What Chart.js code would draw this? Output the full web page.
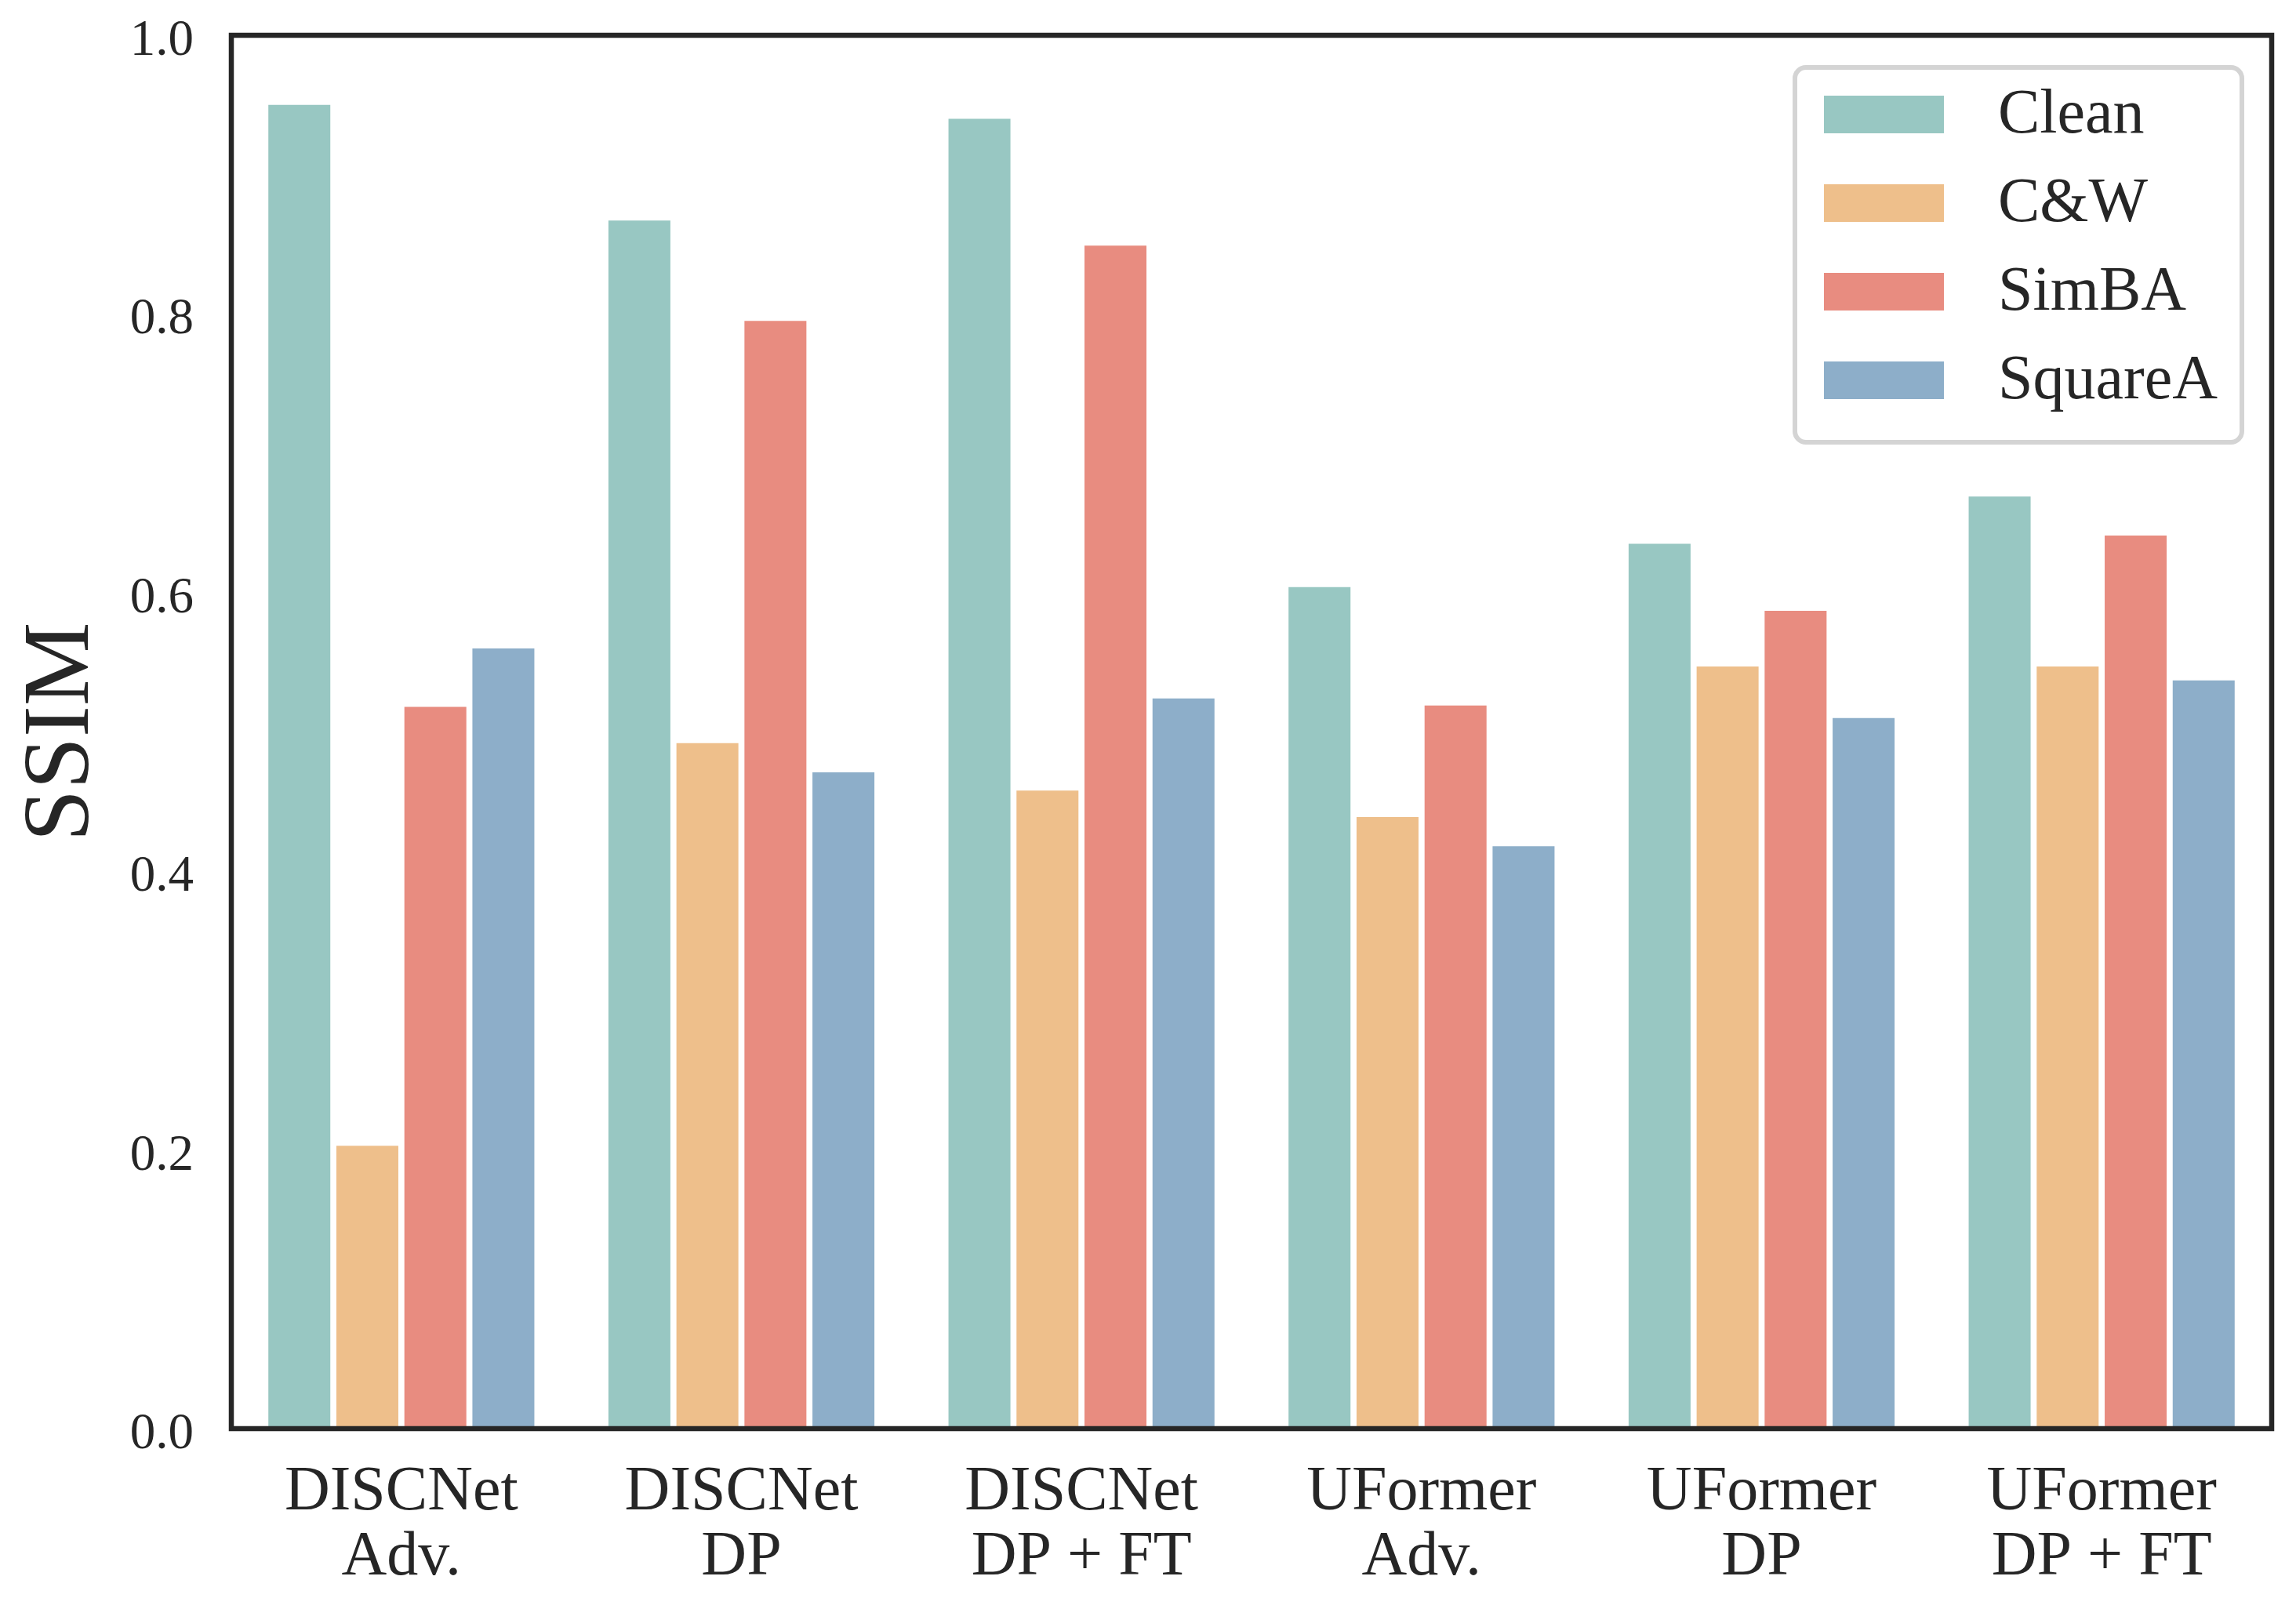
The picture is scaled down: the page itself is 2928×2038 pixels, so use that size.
<!DOCTYPE html>
<html lang="en">
<head>
    <meta charset="UTF-8">
    <title>SSIM per model and attack</title>
    <script src="https://cdn.jsdelivr.net/npm/chart.js"></script>
    <style>
        html, body {
            margin: 0;
            padding: 0;
            background: #ffffff;
        }

        #wrap {
            width: 2928px;
            height: 2038px;
        }
    </style>
</head>
<body>

    <div id="wrap">
        <canvas id="myChart"></canvas>
    </div>

    <script>
        const categories = [
            ['DISCNet', 'Adv.'],
            ['DISCNet', 'DP'],
            ['DISCNet', 'DP + FT'],
            ['UFormer', 'Adv.'],
            ['UFormer', 'DP'],
            ['UFormer', 'DP + FT']
        ];

        const seriesNames = ['Clean', 'C&W', 'SimBA', 'SquareA'];
        const clean   = [0.950, 0.867, 0.940, 0.604, 0.635, 0.669];
        const cw      = [0.203, 0.492, 0.458, 0.439, 0.547, 0.547];
        const simba   = [0.518, 0.795, 0.849, 0.519, 0.587, 0.641];
        const squareA = [0.560, 0.471, 0.524, 0.418, 0.510, 0.537];

        const yTicks = [0, 0.2, 0.4, 0.6, 0.8, 1.0];

        const colors = ['#98c7c2', '#eebf8b', '#e88c80', '#8daec9'];
        const ink = '#262626';
        const serif = "'Liberation Serif', 'Times New Roman', serif";

        // caixa em volta da area do grafico
        const framePlugin = {
            id: 'frame',
            afterDatasetsDraw(chart) {
                const { ctx, chartArea: a } = chart;
                ctx.save();
                ctx.strokeStyle = ink;
                ctx.lineWidth = 6.5;
                ctx.strokeRect(a.left, a.top, a.right - a.left, a.bottom - a.top);
                ctx.restore();
            }
        };

        // legenda no canto superior direito
        const legendPlugin = {
            id: 'boxLegend',
            afterDraw(chart) {
                const { ctx } = chart;
                const x = 2289, y = 86, w = 570, h = 478, r = 14;
                ctx.save();
                ctx.fillStyle = 'rgba(255,255,255,0.8)';
                ctx.strokeStyle = '#d4d4d4';
                ctx.lineWidth = 6;
                ctx.beginPath();
                ctx.roundRect(x, y, w, h, r);
                ctx.fill();
                ctx.stroke();

                ctx.font = '80px ' + serif;
                ctx.textBaseline = 'middle';
                ctx.textAlign = 'left';
                chart.data.datasets.forEach((ds, i) => {
                    const py = 122 + i * 113;
                    ctx.fillStyle = ds.backgroundColor;
                    ctx.fillRect(2326, py, 153, 48);
                    ctx.fillStyle = ink;
                    ctx.fillText(ds.label, 2548, py + 26);
                });
                ctx.restore();
            }
        };

        const seriesData = [clean, cw, simba, squareA];

        const ctx = document.getElementById('myChart').getContext('2d');
        new Chart(ctx, {
            type: 'bar',
            data: {
                labels: categories,
                datasets: seriesNames.map((name, i) => ({
                    label: name,
                    data: seriesData[i],
                    backgroundColor: colors[i],
                    borderWidth: 0,
                    categoryPercentage: 0.8,
                    barPercentage: 0.911
                }))
            },
            options: {
                responsive: true,
                maintainAspectRatio: false,
                animation: false,
                layout: {
                    padding: { left: 0, right: 31, top: 45, bottom: 0 }
                },
                scales: {
                    x: {
                        grid: { display: false, drawTicks: false },
                        border: { display: false },
                        ticks: {
                            color: ink,
                            font: { family: serif, size: 80, lineHeight: 1.04 },
                            padding: 40,
                            autoSkip: false,
                            maxRotation: 0,
                            minRotation: 0
                        },
                        afterFit(scale) {
                            scale.height = 216;
                            scale.paddingLeft = 0;
                            scale.paddingRight = 0;
                        }
                    },
                    y: {
                        min: 0,
                        max: 1,
                        grid: { display: false, drawTicks: false },
                        border: { display: false },
                        afterBuildTicks(scale) {
                            scale.ticks = yTicks.map(v => ({ value: v }));
                        },
                        ticks: {
                            color: ink,
                            font: { family: serif, size: 65 },
                            padding: 48,
                            labelOffset: 8,
                            callback: v => Number(v).toFixed(1)
                        },
                        title: {
                            display: true,
                            text: 'SSIM',
                            color: ink,
                            font: { family: serif, size: 120, lineHeight: 1 },
                            padding: { top: 20, bottom: 0 }
                        },
                        afterFit(scale) {
                            scale.width = 295;
                            scale.paddingTop = 0;
                            scale.paddingBottom = 0;
                        }
                    }
                },
                plugins: {
                    legend: { display: false },
                    tooltip: { enabled: false }
                }
            },
            plugins: [framePlugin, legendPlugin]
        });
    </script>

</body>
</html>
